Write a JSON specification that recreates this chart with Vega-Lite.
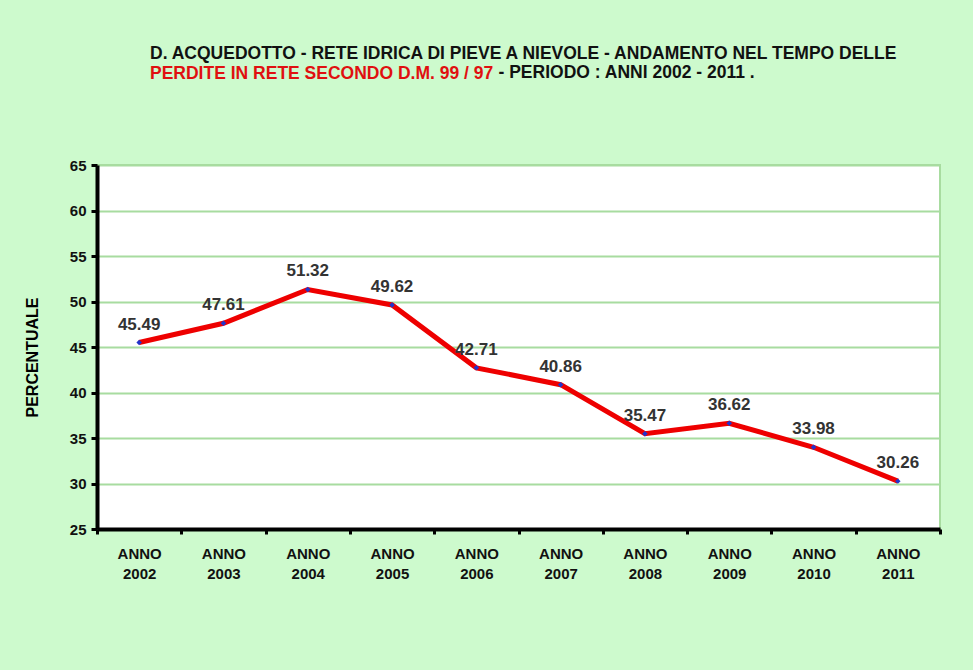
{
  "$schema": "https://vega.github.io/schema/vega-lite/v6.json",
  "width": 843,
  "height": 364,
  "autosize": "none",
  "padding": {"left": 97, "top": 165, "right": 33, "bottom": 141},
  "background": "#cdfacd",
  "config": {
    "font": "Liberation Sans",
    "view": {"fill": "white", "stroke": "#a8dca0", "strokeWidth": 2}
  },
  "title": {
    "text": "D. ACQUEDOTTO - RETE IDRICA DI PIEVE A NIEVOLE -  ANDAMENTO NEL TEMPO DELLE",
    "subtitle": "PERDITE IN RETE SECONDO D.M. 99 / 97",
    "anchor": "start",
    "frame": "group",
    "dx": 53,
    "dy": 19.5,
    "offset": 0,
    "fontSize": 17.5,
    "fontWeight": "bold",
    "color": "#111111",
    "subtitleColor": "#e01010",
    "subtitleFont": "Liberation Sans",
    "subtitleFontSize": 17.5,
    "subtitleFontWeight": "bold",
    "subtitlePadding": 2.5
  },
  "data": {
    "values": [
      {"anno": "2002", "perc": 45.49},
      {"anno": "2003", "perc": 47.61},
      {"anno": "2004", "perc": 51.32},
      {"anno": "2005", "perc": 49.62},
      {"anno": "2006", "perc": 42.71},
      {"anno": "2007", "perc": 40.86},
      {"anno": "2008", "perc": 35.47},
      {"anno": "2009", "perc": 36.62},
      {"anno": "2010", "perc": 33.98},
      {"anno": "2011", "perc": 30.26}
    ]
  },
  "encoding": {
    "y": {
      "field": "perc",
      "type": "quantitative",
      "scale": {"domain": [25, 65], "nice": false, "zero": false},
      "axis": {
        "values": [25, 30, 35, 40, 45, 50, 55, 60, 65],
        "title": "PERCENTUALE",
        "titleFontSize": 16,
        "titleFontWeight": "bold",
        "titleColor": "#000000",
        "titlePadding": 29,
        "titleY": 192,
        "labelFontSize": 15,
        "labelFontWeight": "bold",
        "labelColor": "#111111",
        "labelPadding": 5,
        "domainColor": "#000000",
        "domainWidth": 4,
        "tickColor": "#000000",
        "tickWidth": 3,
        "tickSize": 6,
        "gridColor": "#a8dca0",
        "gridWidth": 2,
        "gridOpacity": 1
      }
    }
  },
  "resolve": {"axis": {"x": "independent"}},
  "layer": [
    {
      "mark": {
        "type": "line",
        "color": "#ee0000",
        "strokeWidth": 5,
        "point": {"filled": true, "color": "#2233cc", "size": 30, "shape": "diamond"}
      },
      "encoding": {
        "x": {
          "field": "anno",
          "type": "ordinal",
          "bandPosition": 0.5,
          "scale": {"type": "band", "paddingInner": 0, "paddingOuter": 0},
          "axis": {
            "title": null,
            "labelAngle": 0,
            "labelExpr": "datum.label ? ['ANNO', datum.label] : ''",
            "labelFontSize": 15,
            "labelFontWeight": "bold",
            "labelColor": "#111111",
            "labelLineHeight": 20,
            "labelPadding": 12,
            "domainColor": "#000000",
            "domainWidth": 4,
            "tickColor": "#000000",
            "tickWidth": 3,
            "tickSize": 5,
            "tickBand": "extent",
            "grid": false
          }
        }
      }
    },
    {
      "mark": {"type": "text", "dy": -18, "fontSize": 17, "fontWeight": "bold", "color": "#333333"},
      "encoding": {
        "x": {
          "field": "anno",
          "type": "ordinal",
          "bandPosition": 0.5,
          "scale": {"type": "band", "paddingInner": 0, "paddingOuter": 0},
          "axis": {
            "orient": "top",
            "title": "-  PERIODO  : ANNI 2002 - 2011 .",
            "titleX": 401,
            "titleY": -93,
            "titleAlign": "left",
            "titleAnchor": null,
            "titleBaseline": "middle",
            "titleAngle": 0,
            "titleFontSize": 17.5,
            "titleFontWeight": "bold",
            "titleColor": "#111111",
            "labels": false,
            "ticks": false,
            "domain": false,
            "grid": false
          }
        },
        "text": {"field": "perc", "type": "quantitative", "format": ".2f"}
      }
    }
  ]
}
